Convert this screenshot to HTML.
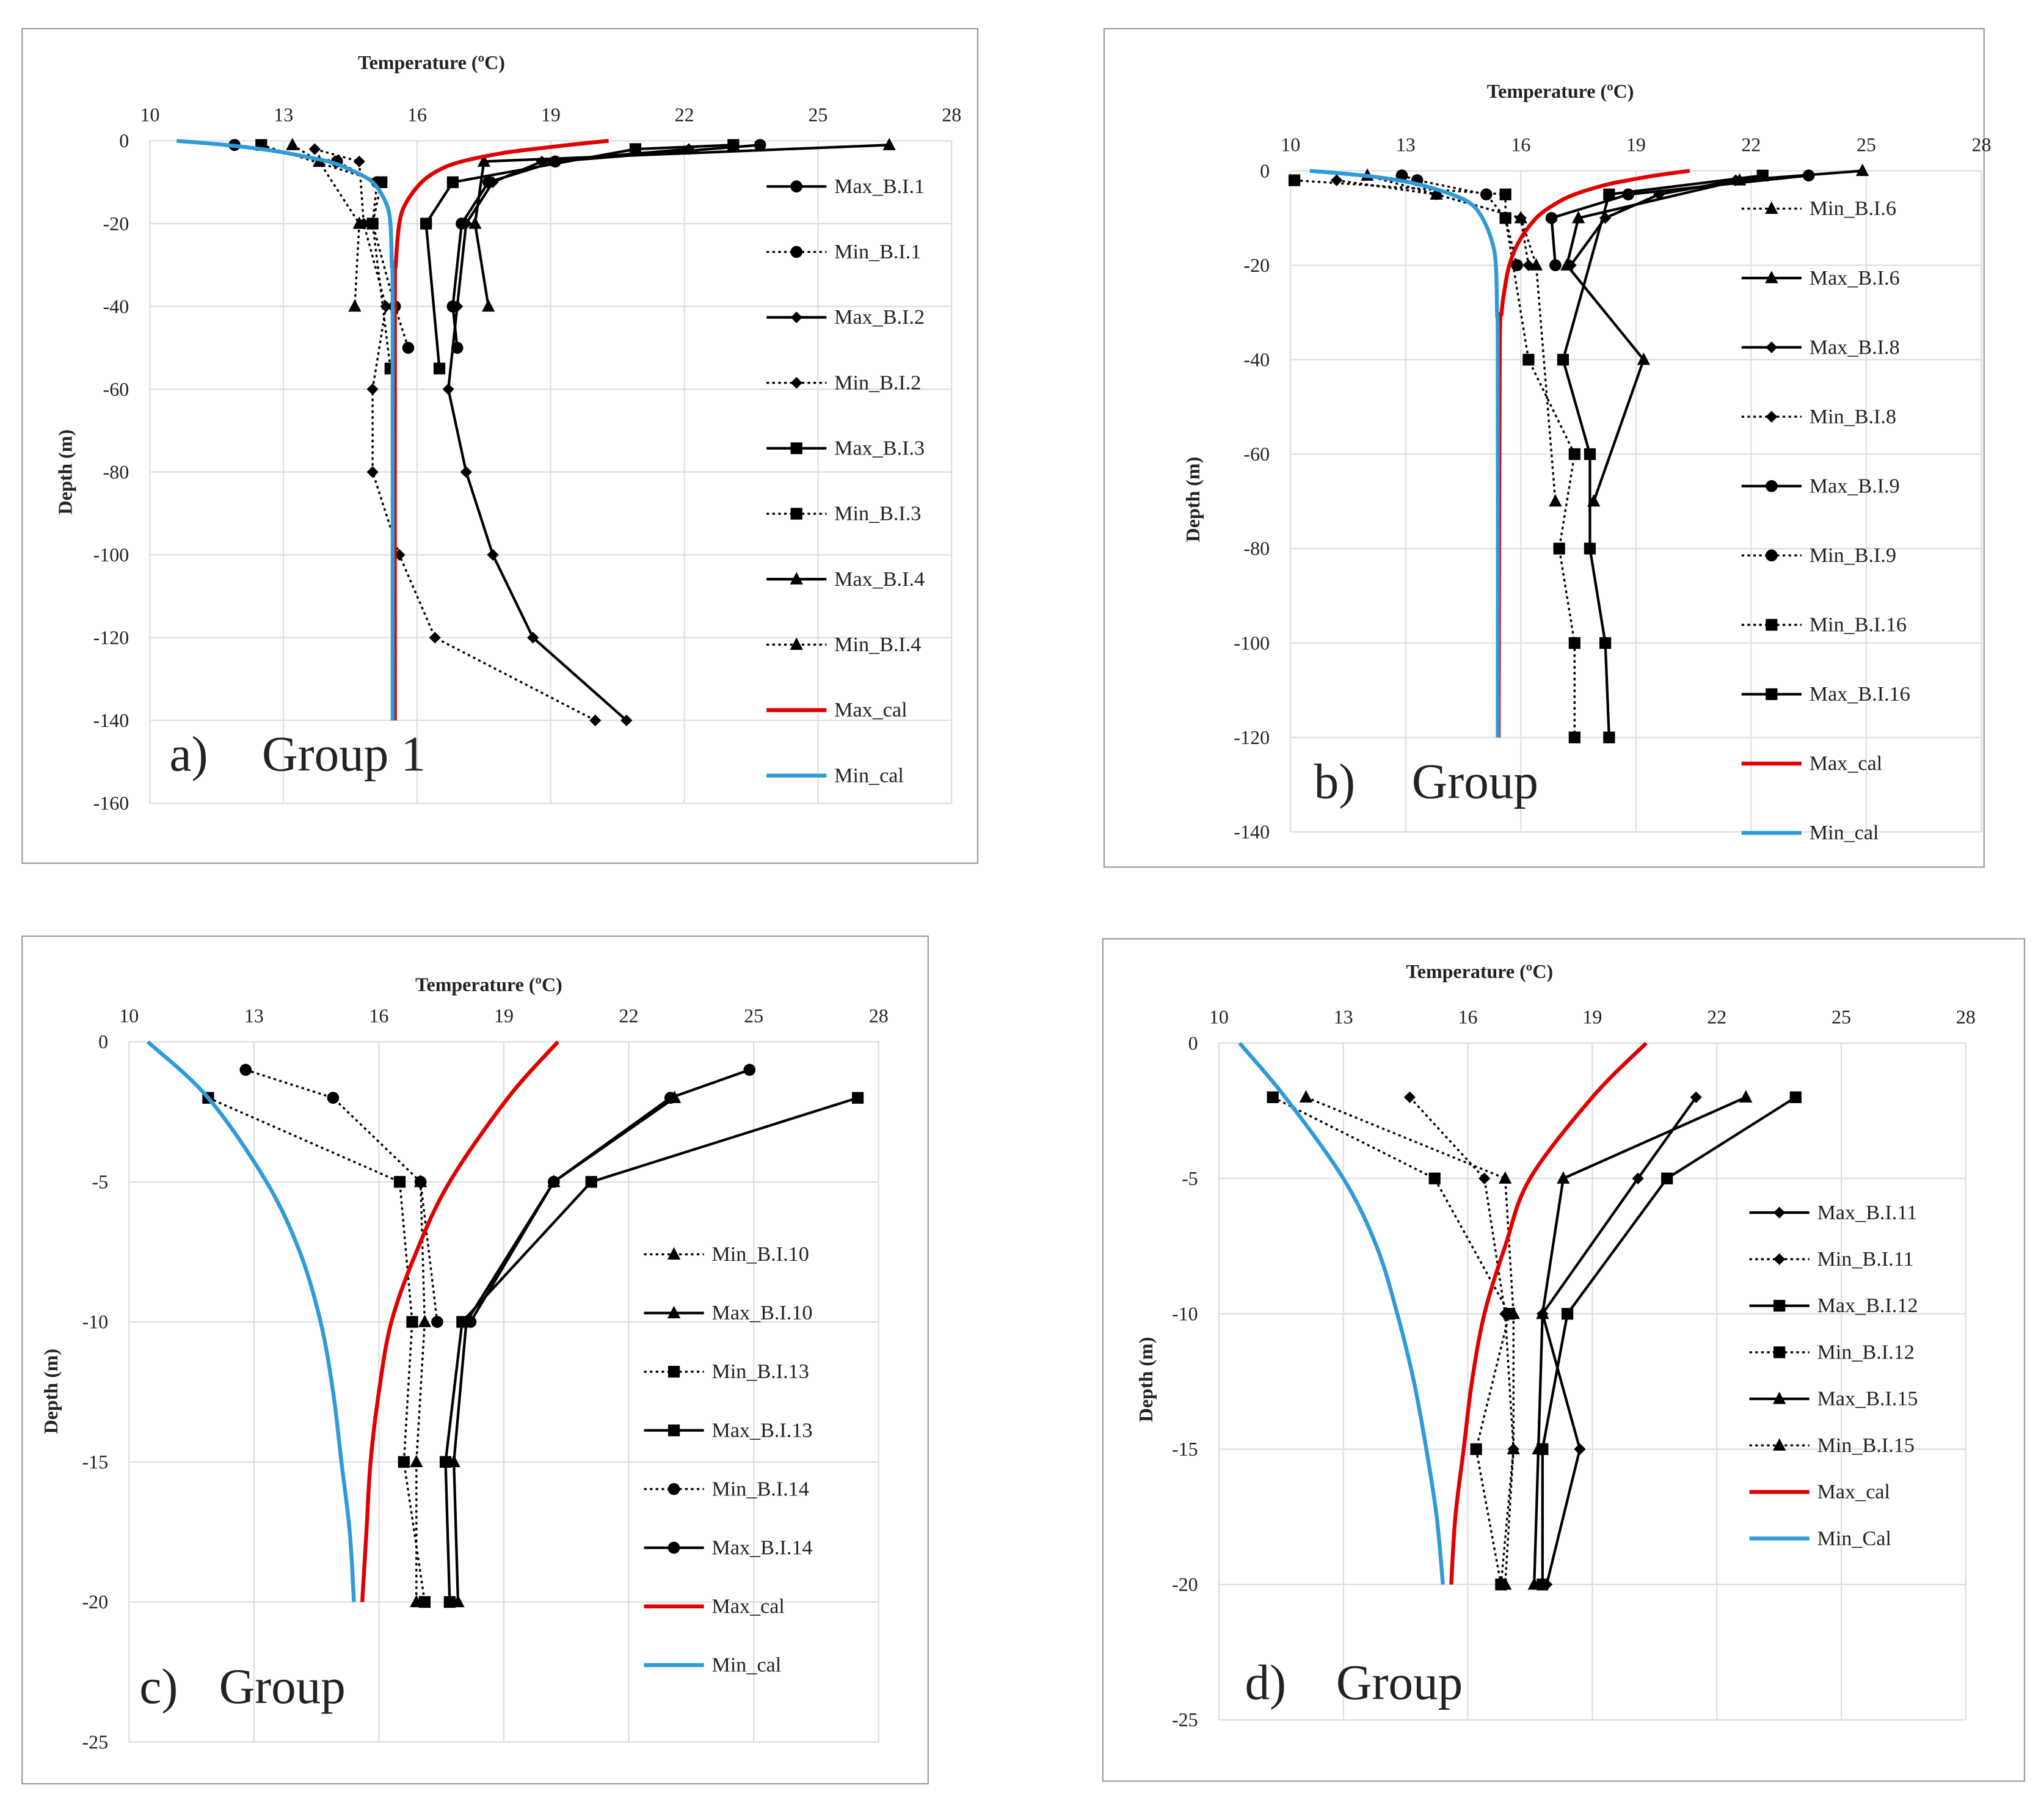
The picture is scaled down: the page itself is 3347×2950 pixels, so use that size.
<!DOCTYPE html>
<html><head><meta charset="utf-8"><style>
html,body{margin:0;padding:0;background:#fff}
svg{display:block}
text{font-family:"Liberation Serif",serif;fill:#222}
</style></head><body>
<svg id="fig" width="3347" height="2950" viewBox="0 0 1568 1382" preserveAspectRatio="none" xmlns="http://www.w3.org/2000/svg"></svg>
<script>
// ---- Panel a data ----
const aMaxCalD=[0,-1,-2,-3,-5,-7,-10,-15,-20,-30,-40,-140];
const aMaxCalT=[20.3,19.4,18.6,17.9,17.0,16.5,16.1,15.75,15.6,15.52,15.5,15.5];
const aMinCalD=[0,-1,-2,-3,-5,-7,-10,-15,-20,-30,-40,-140];
const aMinCalT=[10.6,11.7,12.5,13.1,14.0,14.5,15.0,15.3,15.4,15.43,15.45,15.45];
const aMax1D=[-1,-5,-10,-20,-40,-50], aMax1T=[23.7,19.1,17.6,17.0,16.8,16.9];
const aMin1D=[-1,-5,-10,-20,-40,-50], aMin1T=[11.9,14.2,15.1,15.0,15.5,15.8];
const aMax2D=[-2,-5,-10,-20,-40,-60,-80,-100,-120,-140], aMax2T=[22.1,18.8,17.7,17.1,16.9,16.7,17.1,17.7,18.6,20.7];
const aMin2D=[-2,-5,-20,-40,-60,-80,-100,-120,-140], aMin2T=[13.7,14.7,14.8,15.3,15.0,15.0,15.6,16.4,20.0];
const aMax3D=[-1,-2,-10,-20,-55], aMax3T=[23.1,20.9,16.8,16.2,16.5];
const aMin3D=[-1,-10,-20,-55], aMin3T=[12.5,15.2,15.0,15.4];
const aMax4D=[-1,-5,-20,-40], aMax4T=[26.6,17.5,17.3,17.6];
const aMin4D=[-1,-5,-20,-40], aMin4T=[13.2,13.8,14.7,14.6];
// ---- Panel b data ----
const bMaxCalD=[0,-1,-2,-3,-5,-7,-10,-15,-20,-25,-30,-40,-120];
const bMaxCalT=[20.4,19.5,18.8,18.2,17.4,16.9,16.4,15.95,15.7,15.58,15.5,15.45,15.42];
const bMinCalD=[0,-1,-2,-3,-5,-7,-10,-15,-20,-30,-40,-120];
const bMinCalT=[10.5,11.9,12.8,13.4,14.2,14.7,15.0,15.25,15.35,15.38,15.4,15.4];
const bMin6D=[-1,-5,-10,-20,-70], bMin6T=[12.0,13.8,16.0,16.4,16.9];
const bMax6D=[0,-2,-10,-20,-40,-70], bMax6T=[24.9,21.7,17.5,17.2,19.2,17.9];
const bMax8D=[-2,-5,-10,-20], bMax8T=[21.6,19.6,18.2,17.3];
const bMin8D=[-2,-5,-10,-20], bMin8T=[11.2,13.8,16.0,16.2];
const bMax9D=[-1,-5,-10,-20], bMax9T=[23.5,18.8,16.8,16.9];
const bMin9D=[-1,-2,-5,-10,-20], bMin9T=[12.9,13.3,15.1,15.6,15.9];
const bMin16D=[-2,-5,-10,-40,-60,-80,-100,-120], bMin16T=[10.1,15.6,15.6,16.2,17.4,17.0,17.4,17.4];
const bMax16D=[-1,-5,-40,-60,-80,-100,-120], bMax16T=[22.3,18.3,17.1,17.8,17.8,18.2,18.3];
// ---- Panel c data ----
const cMaxCalD=[0,-2,-5,-7.5,-10,-12.5,-15,-17.5,-20];
const cMaxCalT=[20.3,19.1,17.7,16.9,16.3,16.0,15.8,15.7,15.6];
const cMinCalD=[0,-2,-5,-7.5,-10,-12.5,-15,-17.5,-20];
const cMinCalT=[10.45,11.9,13.3,14.1,14.6,14.9,15.1,15.3,15.4];
const cMin10D=[-5,-10,-15,-20], cMin10T=[17.0,17.1,16.9,16.9];
const cMax10D=[-2,-5,-10,-15,-20], cMax10T=[23.1,20.2,18.1,17.8,17.9];
const cMin13D=[-2,-5,-10,-15,-20], cMin13T=[11.9,16.5,16.8,16.6,17.1];
const cMax13D=[-2,-5,-10,-15,-20], cMax13T=[27.5,21.1,18.0,17.6,17.7];
const cMin14D=[-1,-2,-5,-10], cMin14T=[12.8,14.9,17.0,17.4];
const cMax14D=[-1,-2,-5,-10], cMax14T=[24.9,23.0,20.2,18.2];
// ---- Panel d data ----
const dMaxCalD=[0,-2,-5,-7.5,-10,-12.5,-15,-17.5,-20];
const dMaxCalT=[20.3,19.0,17.5,16.9,16.4,16.1,15.9,15.7,15.6];
const dMinCalD=[0,-2,-5,-7.5,-10,-12.5,-15,-17.5,-20];
const dMinCalT=[10.5,11.6,13.0,13.8,14.3,14.7,15.0,15.25,15.4];
const dMax11D=[-2,-5,-10,-15,-20], dMax11T=[21.5,20.1,17.8,18.7,17.9];
const dMin11D=[-2,-5,-10,-15,-20], dMin11T=[14.6,16.4,16.9,17.1,16.8];
const dMax12D=[-2,-5,-10,-15,-20], dMax12T=[23.9,20.8,18.4,17.8,17.8];
const dMin12D=[-2,-5,-10,-15,-20], dMin12T=[11.3,15.2,17.0,16.2,16.8];
const dMax15D=[-2,-5,-10,-15,-20], dMax15T=[22.7,18.3,17.8,17.7,17.6];
const dMin15D=[-2,-5,-10,-15,-20], dMin15T=[12.1,16.9,17.1,17.1,16.9];
const xTicks=[10,13,16,19,22,25,28];
const yTicksA=[0,-20,-40,-60,-80,-100,-120,-140,-160];
const yTicksB=[0,-20,-40,-60,-80,-100,-120,-140];
const yTicksC=[0,-5,-10,-15,-20,-25];
const yTicksD=[0,-5,-10,-15,-20,-25];

const NS='http://www.w3.org/2000/svg';
const svg=document.getElementById('fig');
function mk(tag,attrs,parent){const e=document.createElementNS(NS,tag);for(const k in attrs)e.setAttribute(k,attrs[k]);(parent||svg).appendChild(e);return e;}
function marker(g,type,x,y){
  if(type==='circle') return mk('circle',{cx:x,cy:y,r:4.6,fill:'#000'},g);
  if(type==='square') return mk('rect',{x:x-4.5,y:y-4.5,width:9,height:9,fill:'#000'},g);
  if(type==='diamond') return mk('polygon',{points:`${x},${y-4.5} ${x+4.5},${y} ${x},${y+4.5} ${x-4.5},${y}`,fill:'#000'},g);
  return mk('polygon',{points:`${x},${y-5.5} ${x+5},${y+4} ${x-5},${y+4}`,fill:'#000'},g);
}
function smoothPath(p){
  let s=`M${p[0][0]},${p[0][1]}`;
  for(let i=0;i<p.length-1;i++){
    const p0=p[i-1]||p[i],p1=p[i],p2=p[i+1],p3=p[i+2]||p2;
    const c1=[p1[0]+(p2[0]-p0[0])/6,p1[1]+(p2[1]-p0[1])/6];
    const c2=[p2[0]-(p3[0]-p1[0])/6,p2[1]-(p3[1]-p1[1])/6];
    s+=` C${c1[0]},${c1[1]} ${c2[0]},${c2[1]} ${p2[0]},${p2[1]}`;
  }
  return s;
}
function panel(P){
  const g=mk('g',{});
  
  
  const fr=mk('rect',{x:P.fx,y:P.fy,width:P.fw,height:P.fh,fill:'#fff',stroke:'#999','stroke-width':1},g);
  
  
  const X=t=>P.x0+(t-10)/18*(P.x1-P.x0);
  const Y=d=>P.y0+(d/P.ymin)*(P.y1-P.y0);
  xTicks.forEach(t=>{
    mk('line',{x1:X(t),x2:X(t),y1:P.y0,y2:P.y1,stroke:'#ddd','stroke-width':1},g);
    const tx=mk('text',{x:X(t),y:P.y0-15,'text-anchor':'middle','font-size':15},g);tx.textContent=t;
    
    
  });
  P.yt.forEach(d=>{
    mk('line',{x1:P.x0,x2:P.x1,y1:Y(d),y2:Y(d),stroke:'#ddd','stroke-width':1},g);
    const tx=mk('text',{x:P.x0-16,y:Y(d)+5,'text-anchor':'end','font-size':15},g);tx.textContent=d;
    
    
  });
  const tt=mk('text',{x:P.tx,y:P.ty,'text-anchor':'middle','font-size':15,'font-weight':'bold'},g);tt.textContent='Temperature (ºC)';
  
  
  const yt=mk('text',{x:0,y:0,'text-anchor':'middle','font-size':15,'font-weight':'bold',transform:`translate(${P.ytx},${P.yty}) rotate(-90)`},g);yt.textContent='Depth (m)';
  
  
  P.series.forEach((s,i)=>{
    const sg=mk('g',{},g);
    
    
    const pts=s.d.map((d,j)=>[X(s.t[j]),Y(d)]);
    const style=s.cal?{stroke:s.cal,'stroke-width':3}:(s.dot?{stroke:'#000','stroke-width':1.6,'stroke-dasharray':'2,2.5'}:{stroke:'#000','stroke-width':2});
    if(s.cal) mk('path',Object.assign({d:smoothPath(pts),fill:'none'},style),sg);
    else mk('polyline',Object.assign({points:pts.map(p=>p.join(',')).join(' '),fill:'none','stroke-linejoin':'round'},style),sg);
    if(s.m) pts.forEach(p=>marker(sg,s.m,p[0],p[1]));
    const ly=P.ly0+i*P.lsp;
    const lg=mk('g',{},g);
    
    
    mk('line',Object.assign({x1:P.lx,x2:P.lx+46,y1:ly,y2:ly},style),lg);
    if(s.m) marker(lg,s.m,P.lx+23,ly);
    const lt=mk('text',{x:P.lx+52,y:ly+5,'font-size':16},lg);lt.textContent=s.label;
  });
  const gl=mk('text',{x:P.gx,y:P.gy,'font-size':38},g);gl.textContent=P.gl1;
  
  
  const gl2=mk('text',{x:P.gx2,y:P.gy,'font-size':38},g);gl2.textContent=P.gl2;
  
  
}
panel({name:'panel-a-group-1',fx:17,fy:22,fw:733,fh:640,x0:115,x1:730,y0:108,y1:616,ymin:-160,yt:yTicksA,tx:331,ty:53,ytx:55,yty:362,
  lx:588,ly0:143,lsp:50.2,gx:130,gx2:201,gy:591,gl1:'a)',gl2:'Group 1',
  series:[{label:'Max_B.I.1',d:aMax1D,t:aMax1T,m:'circle'},{label:'Min_B.I.1',d:aMin1D,t:aMin1T,m:'circle',dot:1},
  {label:'Max_B.I.2',d:aMax2D,t:aMax2T,m:'diamond'},{label:'Min_B.I.2',d:aMin2D,t:aMin2T,m:'diamond',dot:1},
  {label:'Max_B.I.3',d:aMax3D,t:aMax3T,m:'square'},{label:'Min_B.I.3',d:aMin3D,t:aMin3T,m:'square',dot:1},
  {label:'Max_B.I.4',d:aMax4D,t:aMax4T,m:'tri'},{label:'Min_B.I.4',d:aMin4D,t:aMin4T,m:'tri',dot:1},
  {label:'Max_cal',d:aMaxCalD,t:aMaxCalT,cal:'#e00000'},{label:'Min_cal',d:aMinCalD,t:aMinCalT,cal:'#2e9bd8'}]});
panel({name:'panel-b-group-2',fx:847,fy:22,fw:675,fh:643,x0:990,x1:1520,y0:131,y1:638,ymin:-140,yt:yTicksB,tx:1197,ty:75,ytx:920,yty:383,
  lx:1336,ly0:160,lsp:53.2,gx:1008,gx2:1083,gy:612,gl1:'b)',gl2:'Group',
  series:[{label:'Min_B.I.6',d:bMin6D,t:bMin6T,m:'tri',dot:1},{label:'Max_B.I.6',d:bMax6D,t:bMax6T,m:'tri'},
  {label:'Max_B.I.8',d:bMax8D,t:bMax8T,m:'diamond'},{label:'Min_B.I.8',d:bMin8D,t:bMin8T,m:'diamond',dot:1},
  {label:'Max_B.I.9',d:bMax9D,t:bMax9T,m:'circle'},{label:'Min_B.I.9',d:bMin9D,t:bMin9T,m:'circle',dot:1},
  {label:'Min_B.I.16',d:bMin16D,t:bMin16T,m:'square',dot:1},{label:'Max_B.I.16',d:bMax16D,t:bMax16T,m:'square'},
  {label:'Max_cal',d:bMaxCalD,t:bMaxCalT,cal:'#e00000'},{label:'Min_cal',d:bMinCalD,t:bMinCalT,cal:'#2e9bd8'}]});
panel({name:'panel-c-group-3',fx:17,fy:718,fw:695,fh:650,x0:99,x1:674,y0:799,y1:1336,ymin:-25,yt:yTicksC,tx:375,ty:760,ytx:44,yty:1067,
  lx:494,ly0:962,lsp:45,gx:107,gx2:168,gy:1306,gl1:'c)',gl2:'Group',
  series:[{label:'Min_B.I.10',d:cMin10D,t:cMin10T,m:'tri',dot:1},{label:'Max_B.I.10',d:cMax10D,t:cMax10T,m:'tri'},
  {label:'Min_B.I.13',d:cMin13D,t:cMin13T,m:'square',dot:1},{label:'Max_B.I.13',d:cMax13D,t:cMax13T,m:'square'},
  {label:'Min_B.I.14',d:cMin14D,t:cMin14T,m:'circle',dot:1},{label:'Max_B.I.14',d:cMax14D,t:cMax14T,m:'circle'},
  {label:'Max_cal',d:cMaxCalD,t:cMaxCalT,cal:'#e00000'},{label:'Min_cal',d:cMinCalD,t:cMinCalT,cal:'#2e9bd8'}]});
panel({name:'panel-d-group-4',fx:846,fy:720,fw:707,fh:646,x0:935,x1:1508,y0:800,y1:1319,ymin:-25,yt:yTicksD,tx:1135,ty:750,ytx:884,yty:1058,
  lx:1342,ly0:930,lsp:35.7,gx:955,gx2:1025,gy:1303,gl1:'d)',gl2:'Group',
  series:[{label:'Max_B.I.11',d:dMax11D,t:dMax11T,m:'diamond'},{label:'Min_B.I.11',d:dMin11D,t:dMin11T,m:'diamond',dot:1},
  {label:'Max_B.I.12',d:dMax12D,t:dMax12T,m:'square'},{label:'Min_B.I.12',d:dMin12D,t:dMin12T,m:'square',dot:1},
  {label:'Max_B.I.15',d:dMax15D,t:dMax15T,m:'tri'},{label:'Min_B.I.15',d:dMin15D,t:dMin15T,m:'tri',dot:1},
  {label:'Max_cal',d:dMaxCalD,t:dMaxCalT,cal:'#e00000'},{label:'Min_Cal',d:dMinCalD,t:dMinCalT,cal:'#2e9bd8'}]});
</script>
</body></html>
